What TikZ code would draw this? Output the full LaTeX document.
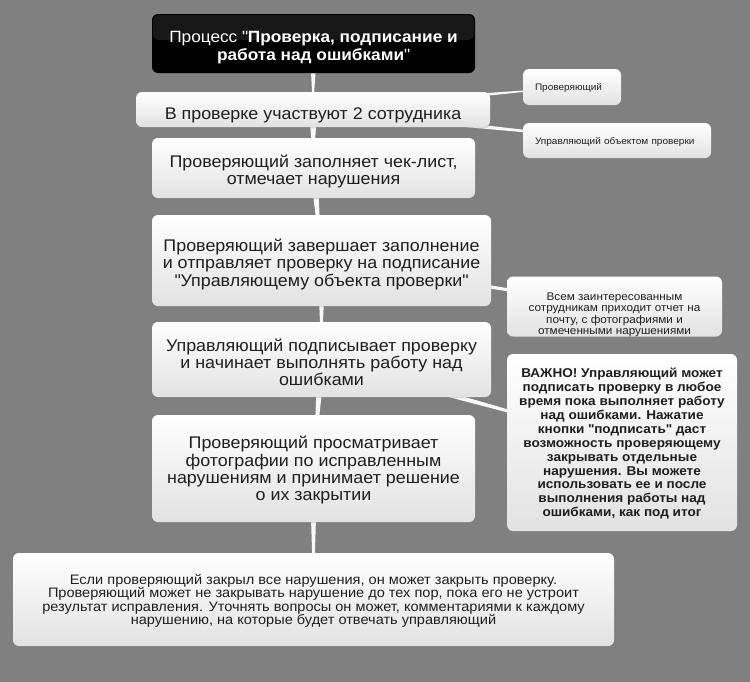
\documentclass[tikz,border=0pt]{standalone}
\usepackage{fontspec}
\setmainfont{Liberation Sans}[FakeStretch=1.06]
\usetikzlibrary{calc,shadows}
\definecolor{bg}{RGB}{128,128,128}
\definecolor{txt}{RGB}{30,30,30}
\definecolor{boxbot}{RGB}{226,226,226}
\definecolor{conncol}{RGB}{248,248,248}
\newcommand\setfs[2]{\fontsize{#1}{#2}\selectfont}
\newcommand\qq{\textquotedbl}
\newcommand\pushdown[1]{\rule{0pt}{#1}}
\pgfdeclarelayer{bglayer}
\pgfdeclarelayer{connlayer}
\pgfsetlayers{bglayer,connlayer,main}
\begin{document}
\begin{tikzpicture}[x=0.75pt,y=-0.75pt,
  sz/.style 2 args={minimum width=#1*0.75pt, minimum height=#2*0.75pt},
  box/.style={rounded corners=4.5pt, top color=white, bottom color=boxbot, draw=none,
    inner sep=0pt, align=center, text=txt, text depth=0pt,
    drop shadow={opacity=0.25, shadow xshift=0.5pt, shadow yshift=-1pt}},
  titlebox/.style={rounded corners=4.5pt, fill=black, draw=none, inner sep=0pt,
    align=center, text=white, text depth=0pt,
    drop shadow={opacity=0.25, shadow xshift=0.5pt, shadow yshift=-1pt}},
  mainfont/.style={font=\setfs{12.65pt}{12.9pt}},
  smallfont/.style={font=\setfs{7.1pt}{9pt}},
  conn/.style={fill=conncol, draw=none}
]
\begin{pgfonlayer}{bglayer}
\path[use as bounding box, fill=bg] (0,0) rectangle (750,682);
\end{pgfonlayer}

\node[titlebox, sz={323}{59}, font=\setfs{12.2pt}{13.7pt}] (title) at (313.5,43.5)
  {\pushdown{12.5pt}Процесс \qq\textbf{Проверка, подписание и}\\\textbf{работа над ошибками}\qq};
\fill[white, opacity=0.09, rounded corners=4.5pt] (153,15) rectangle (474,40);

\node[box, sz={354}{35}, mainfont] (b2) at (313,109.5) {\pushdown{15pt}В проверке участвуют 2 сотрудника};
\node[box, sz={323}{60}, mainfont] (b3) at (313.5,168) {\pushdown{11.5pt}Проверяющий заполняет чек-лист,\\отмечает нарушения};
\node[box, sz={339}{91}, mainfont] (b4) at (321.5,260.5) {\pushdown{12.6pt}Проверяющий завершает заполнение\\и отправляет проверку на подписание\\\qq Управляющему объекта проверки\qq};
\node[box, sz={339}{75}, mainfont] (b5) at (321.5,359.5) {\pushdown{13.4pt}Управляющий подписывает проверку\\и начинает выполнять работу над\\ошибками};
\node[box, sz={323}{107}, mainfont] (b6) at (313.5,468.5) {Проверяющий просматривает\\фотографии по исправленным\\нарушениям и принимает решение\\о их закрытии};
\node[box, sz={601}{93}, font=\setfs{10.3pt}{10.1pt}] (b7) at (313.5,599.5) {Если проверяющий закрыл все нарушения, он может закрыть проверку.\\Проверяющий может не закрывать нарушение до тех пор, пока его не устроит\\результат исправления. Уточнять вопросы он может, комментариями к каждому\\нарушению, на которые будет отвечать управляющий};

\node[box, sz={98}{36}, smallfont, text width=74*0.75pt, align=left] (r1) at (572,87) {Проверяющий};
\node[box, sz={188}{35}, smallfont, text width=164*0.75pt, align=left] (r2) at (617,140.5) {Управляющий объектом проверки};
\node[box, sz={215}{60}, font=\setfs{8.3pt}{8.6pt}] (r3) at (614.5,306.5) {\pushdown{16.5pt}Всем заинтересованным\\сотрудникам приходит отчет на\\почту, с фотографиями и\\отмеченными нарушениями};
\node[box, sz={230}{177}, font=\bfseries\setfs{9.6pt}{10.4pt}] (r4) at (622,442.5) {ВАЖНО! Управляющий может\\подписать проверку в любое\\время пока выполняет работу\\над ошибками. Нажатие\\кнопки \qq подписать\qq{} даст\\возможность проверяющему\\закрывать отдельные\\нарушения. Вы можете\\использовать ее и после\\выполнения работы над\\ошибками, как под итог};

\begin{pgfonlayer}{connlayer}
\foreach \a/\b in {title/b2, b2/b3, b3/b4, b4/b5, b5/b6, b6/b7, b2/r1, b2/r2, b4/r3, b5/r4}{
  \fill[conn] ($(\a.center)!3pt!90:(\b.center)$) -- ($(\a.center)!3pt!-90:(\b.center)$) -- (\b.center) -- cycle;
}
\end{pgfonlayer}
\end{tikzpicture}
\end{document}
